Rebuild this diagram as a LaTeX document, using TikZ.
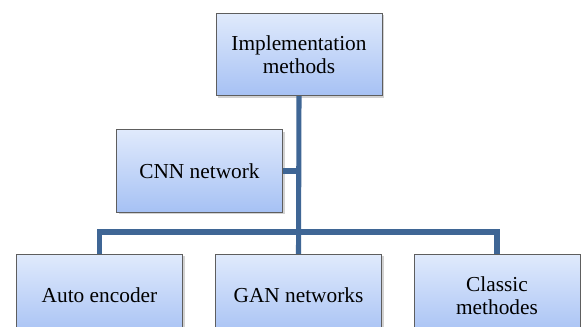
\documentclass[tikz,border=0pt]{standalone}
\usepackage{fontspec}
\setmainfont{Liberation Serif}
\usepackage{xcolor}
\usetikzlibrary{shadows}
\definecolor{boxtop}{HTML}{E0EAFC}
\definecolor{boxbot}{HTML}{A6C1F4}
\definecolor{boxline}{HTML}{5E5E5E}
\definecolor{linkblue}{HTML}{3F6695}

\tikzset{
  methodbox/.style={draw=boxline, line width=0.6pt, top color=boxtop, bottom color=boxbot,
    minimum width=124.5pt, minimum height=62pt, align=center, inner sep=2pt,
    font=\fontsize{16}{17.5}\selectfont,
    drop shadow={opacity=0.35, shadow xshift=1.5pt, shadow yshift=-1.5pt}},
  link/.style={linkblue, line width=3.8pt}
}

\begin{document}
\begin{tikzpicture}[x=0.75pt, y=-0.75pt]
    \clip (0,0) rectangle (581,326);
    \fill[white] (0,0) rectangle (581,326);
    % boxes
    \node[methodbox] (impl) at (299,54.5) {Implementation\\methods};
    \node[methodbox] (cnn) at (199.5,171) {CNN network};
    \node[methodbox] (auto) at (99.5,295.5) {Auto encoder};
    \node[methodbox] (gan) at (298.5,295.5) {GAN networks};
    \node[methodbox] (classic) at (497,295.5) {Classic\\methodes};
    \coordinate (bar) at (298.5,232);
    % connectors
    \draw[link] (impl.south) -- (gan.north);
    \draw[link] (cnn.east) -- (cnn.east -| impl.south);
    \draw[link] (auto.north) |- (bar) -| (classic.north);
  \end{tikzpicture}
\end{document}
